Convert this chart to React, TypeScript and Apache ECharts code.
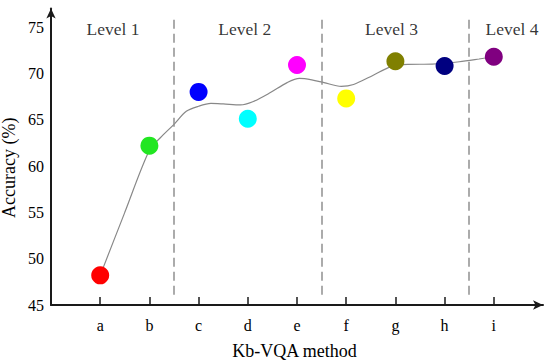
import React, { useEffect, useRef } from "react";
import * as echarts from "echarts";

const categories = ["a", "b", "c", "d", "e", "f", "g", "h", "i"];
const categoryPositions = [1, 2, 3, 4, 5, 6, 7, 8, 9];
const accuracy = [48.2, 62.2, 68.0, 65.1, 70.9, 67.3, 71.3, 70.8, 71.8];
const pointColors = ["#ff0000", "#22e622", "#0000ff", "#00ffff", "#ff00ff", "#ffff00", "#808000", "#000080", "#800080"];
// trend curve
const trendX = [1, 1.5, 2, 2.25, 2.5, 2.75, 3, 3.25, 3.5, 3.85, 4.1, 4.45, 4.8, 5.05, 5.3, 5.55, 5.9, 6.15, 6.55, 6.9, 7.25, 7.75, 8.3, 8.7, 9];
const trendValues = [48.2, 55.0, 61.7, 63.2, 64.5, 65.9, 66.45, 66.75, 66.7, 66.6, 66.94, 67.9, 69.0, 69.45, 69.3, 69.0, 68.6, 68.8, 69.8, 70.7, 70.97, 71.0, 71.25, 71.55, 71.8];
const levelNames = ["Level 1", "Level 2", "Level 3", "Level 4"];
const levelX = [1.26, 3.94, 6.92, 9.37];
const levelY = 74.8;
const dividerX = [2.5, 5.5, 8.5];
const dividerRange = [46.1, 75.8];
const yTicks = [45, 50, 55, 60, 65, 70, 75];

const FONT = "'Liberation Serif', 'Times New Roman', serif";

export default function App() {
  const ref = useRef<HTMLDivElement>(null);
  useEffect(() => {
    if (!ref.current) return;
    const chart = echarts.init(ref.current, null, { renderer: "svg" });
    chart.setOption({
      animation: false,
      backgroundColor: "#ffffff",
      grid: { left: 51, top: 8.5, width: 492, height: 296.5, containLabel: false, outerBoundsMode: "none" },
      xAxis: {
        type: "value",
        min: 0,
        max: 10,
        interval: 1,
        name: "Kb-VQA method",
        nameLocation: "middle",
        nameGap: 37,
        nameMoveOverlap: false,
        nameTextStyle: { fontFamily: FONT, fontSize: 18, color: "#000", padding: [0, 5, 0, 0] },
        splitLine: { show: false },
        axisLine: {
          show: true,
          symbol: ["none", "arrow"],
          symbolSize: [7, 10],
          lineStyle: { color: "#1a1a1a", width: 2 },
        },
        axisTick: {
          show: true,
          inside: true,
          length: 8,
          customValues: categoryPositions,
          lineStyle: { color: "#1a1a1a", width: 1.5 },
        },
        axisLabel: {
          customValues: categoryPositions,
          margin: 12,
          fontFamily: FONT,
          fontSize: 16,
          color: "#000",
          formatter: (v: number) => categories[Math.round(v) - 1] ?? "",
        },
      },
      yAxis: {
        type: "value",
        min: 45,
        max: 77,
        interval: 5,
        name: "Accuracy (%)",
        nameLocation: "middle",
        nameGap: 33,
        nameMoveOverlap: false,
        nameTextStyle: { fontFamily: FONT, fontSize: 18, color: "#000", padding: [0, 22, 0, 0] },
        splitLine: { show: false },
        axisLine: {
          show: true,
          symbol: ["none", "arrow"],
          symbolSize: [7, 10],
          lineStyle: { color: "#1a1a1a", width: 2 },
        },
        axisTick: { show: false },
        axisLabel: {
          customValues: yTicks,
          margin: 7,
          fontFamily: FONT,
          fontSize: 16,
          color: "#000",
        },
      },
      series: [
        {
          type: "line",
          data: trendX.map((x, i) => [x, trendValues[i]]),
          smooth: 0.3,
          showSymbol: false,
          symbol: "none",
          lineStyle: { color: "#888888", width: 1.2 },
          z: 2,
          silent: true,
          markLine: {
            silent: true,
            symbol: "none",
            label: { show: false },
            lineStyle: { color: "#909090", width: 1.5, type: [9, 5] },
            data: dividerX.map((x) => [
              { coord: [x, dividerRange[0]] },
              { coord: [x, dividerRange[1]] },
            ]),
          },
        },
        {
          type: "scatter",
          symbolSize: 18,
          z: 3,
          data: categoryPositions.map((x, i) => ({
            value: [x, accuracy[i]],
            itemStyle: { color: pointColors[i], opacity: 1 },
          })),
        },
        {
          type: "scatter",
          symbolSize: 0,
          silent: true,
          z: 4,
          data: levelNames.map((n, i) => ({ name: n, value: [levelX[i], levelY] })),
          label: {
            show: true,
            position: "inside",
            formatter: "{b}",
            fontFamily: FONT,
            fontSize: 17.5,
            color: "#000",
          },
        },
      ],
    });
    return () => chart.dispose();
  }, []);
  return <div ref={ref} style={{ width: 550, height: 364, position: "absolute", left: 0, top: 0 }} />;
}
